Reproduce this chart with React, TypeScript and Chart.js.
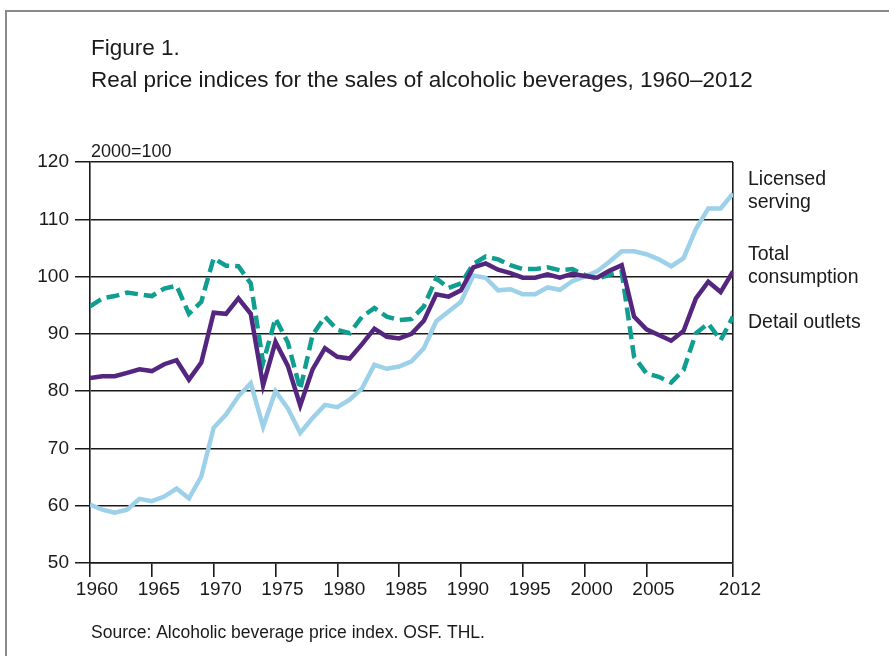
import React, { useEffect, useRef } from "react";
import { Chart, registerables } from "chart.js";

Chart.register(...registerables);

const years: number[] = [];
for (let y = 1960; y <= 2012; y++) years.push(y);

const licensedServing = [
  60.2, 59.3, 58.8, 59.3, 61.2, 60.8, 61.6, 63.0, 61.3, 65.1,
  73.6, 75.9, 79.1, 81.4, 73.8, 80.0, 77.0, 72.7, 75.3, 77.6,
  77.2, 78.5, 80.5, 84.6, 83.9, 84.3, 85.2, 87.5, 92.2, 93.9,
  95.6, 100.2, 99.8, 97.6, 97.8, 96.9, 96.9, 98.1, 97.7, 99.2,
  100.0, 100.9, 102.6, 104.4, 104.4, 103.9, 103.0, 101.8, 103.2, 108.3,
  111.9, 111.9, 114.5,
];

const totalConsumption = [
  82.3, 82.6, 82.6, 83.2, 83.8, 83.5, 84.7, 85.4, 82.0, 85.0,
  93.7, 93.5, 96.2, 93.5, 81.0, 88.6, 84.4, 77.5, 83.8, 87.5,
  86.0, 85.7, 88.2, 90.9, 89.5, 89.2, 90.0, 92.3, 96.9, 96.5,
  97.6, 101.6, 102.3, 101.2, 100.6, 99.8, 99.8, 100.4, 99.8, 100.5,
  100.1, 99.8, 101.0, 102.0, 93.0, 90.8, 89.8, 88.8, 90.5, 96.2,
  99.1, 97.3, 100.9,
];

const detailOutlets = [
  94.8, 96.2, 96.6, 97.2, 96.9, 96.6, 97.9, 98.4, 93.5, 95.6,
  103.2, 101.9, 101.8, 98.8, 85.0, 92.7, 88.5, 80.3, 89.8, 93.0,
  90.7, 90.1, 93.0, 94.5, 93.0, 92.4, 92.6, 94.8, 99.7, 98.0,
  98.8, 102.2, 103.5, 103.0, 102.0, 101.3, 101.3, 101.6, 101.1, 101.3,
  100.3, 99.6, 100.3, 100.8, 86.0, 83.1, 82.5, 81.5, 83.7, 90.1,
  91.8, 88.9, 93.0,
];

const xTickYears = [1960, 1965, 1970, 1975, 1980, 1985, 1990, 1995, 2000, 2005, 2012];
const yTicks = [50, 60, 70, 80, 90, 100, 110, 120];

const titleLines = ["Figure 1.", "Real price indices for the sales of alcoholic beverages, 1960\u20132012"];
const unitLabel = "2000=100";
const sourceText = "Source: Alcoholic beverage price index. OSF. THL.";
const seriesLabels = [
  ["Licensed", "serving"],
  ["Total", "consumption"],
  ["Detail outlets"],
];

const FONT = '"Liberation Sans", Arial, Helvetica, sans-serif';
const INK = "#1a1a1a";

export default function App() {
  const ref = useRef<HTMLCanvasElement | null>(null);

  useEffect(() => {
    const canvas = ref.current;
    if (!canvas) return;

    const textPlugin = {
      id: "texts",
      afterDraw(chart: any) {
        const ctx = chart.ctx;
        const area = chart.chartArea;
        const yScale = chart.scales.y;
        ctx.save();
        ctx.fillStyle = INK;
        ctx.textBaseline = "alphabetic";
        ctx.textAlign = "left";
        ctx.font = `22.5px ${FONT}`;
        ctx.fillText(titleLines[0], area.left + 1, 55);
        ctx.fillText(titleLines[1], area.left + 1, 87);
        ctx.font = `18px ${FONT}`;
        ctx.fillText(unitLabel, area.left + 1, 157);
        ctx.font = `17.5px ${FONT}`;
        ctx.fillText(sourceText, area.left + 1, 638);
        ctx.font = `19.5px ${FONT}`;
        const x = area.right + 15;
        const e0 = yScale.getPixelForValue(licensedServing[licensedServing.length - 1]);
        const e1 = yScale.getPixelForValue(totalConsumption[totalConsumption.length - 1]);
        const e2 = yScale.getPixelForValue(detailOutlets[detailOutlets.length - 1]);
        ctx.textBaseline = "middle";
        ctx.fillText(seriesLabels[0][0], x, e0 - 13.5);
        ctx.fillText(seriesLabels[0][1], x, e0 + 9.5);
        ctx.fillText(seriesLabels[1][0], x, e1 - 16.5);
        ctx.fillText(seriesLabels[1][1], x, e1 + 6.5);
        ctx.fillText(seriesLabels[2][0], x, e2 + 6);
        ctx.restore();
      },
    };

    const mk = (vals: number[]) => years.map((y, i) => ({ x: y, y: vals[i] }));

    const chart = new Chart(canvas, {
      type: "line",
      data: {
        datasets: [
          {
            label: "Total consumption",
            data: mk(totalConsumption),
            borderColor: "#55267f",
            borderWidth: 4.5,
            pointRadius: 0,
            tension: 0,
            order: 0,
          },
          {
            label: "Detail outlets",
            data: mk(detailOutlets),
            borderColor: "#0f9e8f",
            borderWidth: 4.5,
            borderDash: [13, 6],
            pointRadius: 0,
            tension: 0,
            order: 1,
          },
          {
            label: "Licensed serving",
            data: mk(licensedServing),
            borderColor: "#9dd0e9",
            borderWidth: 4.5,
            pointRadius: 0,
            tension: 0,
            order: 2,
          },
        ],
      },
      options: {
        animation: false,
        responsive: false,
        devicePixelRatio: 1,
        layout: { padding: { left: 0, top: 162, right: 156, bottom: 0 } },
        plugins: {
          legend: { display: false },
          tooltip: { enabled: false },
          title: { display: false },
        },
        scales: {
          x: {
            type: "linear",
            min: 1960,
            max: 2012,
            afterBuildTicks: (scale: any) => {
              scale.ticks = xTickYears.map((v) => ({ value: v }));
            },
            afterFit: (scale: any) => {
              scale.height = 656 - 563;
            },
            ticks: {
              autoSkip: false,
              maxRotation: 0,
              color: INK,
              font: { family: FONT, size: 19 },
              padding: 1,
              labelOffset: 7,
              callback: (v: any) => String(v),
            },
            grid: {
              drawOnChartArea: true,
              color: (c: any) => (c.tick && c.tick.value === 2012 ? "#1a1a1a" : "rgba(0,0,0,0)"),
              tickColor: "#1a1a1a",
              tickLength: 14,
              lineWidth: 1.6,
            },
            border: { display: true, color: "#1a1a1a", width: 1.6 },
          },
          y: {
            min: 50,
            max: 120,
            afterBuildTicks: (scale: any) => {
              scale.ticks = yTicks.map((v) => ({ value: v }));
            },
            afterFit: (scale: any) => {
              scale.width = 90;
            },
            ticks: {
              color: INK,
              font: { family: FONT, size: 19 },
              padding: 6,
            },
            grid: {
              color: "#1a1a1a",
              tickColor: "#1a1a1a",
              tickLength: 15,
              lineWidth: 1.5,
            },
            border: { display: true, color: "#1a1a1a", width: 1.6 },
          },
        },
      },
      plugins: [textPlugin],
    });

    return () => chart.destroy();
  }, []);

  return (
    <div style={{ position: "absolute", left: 0, top: 0, width: 889, height: 656, background: "#fff", overflow: "hidden" }}>
      <div
        style={{
          position: "absolute",
          left: 5,
          top: 10,
          right: 0,
          bottom: 0,
          borderTop: "2px solid #8a8a8a",
          borderLeft: "2px solid #8a8a8a",
        }}
      />
      <canvas ref={ref} width={889} height={656} style={{ position: "absolute", left: 0, top: 0, width: 889, height: 656 }} />
    </div>
  );
}
